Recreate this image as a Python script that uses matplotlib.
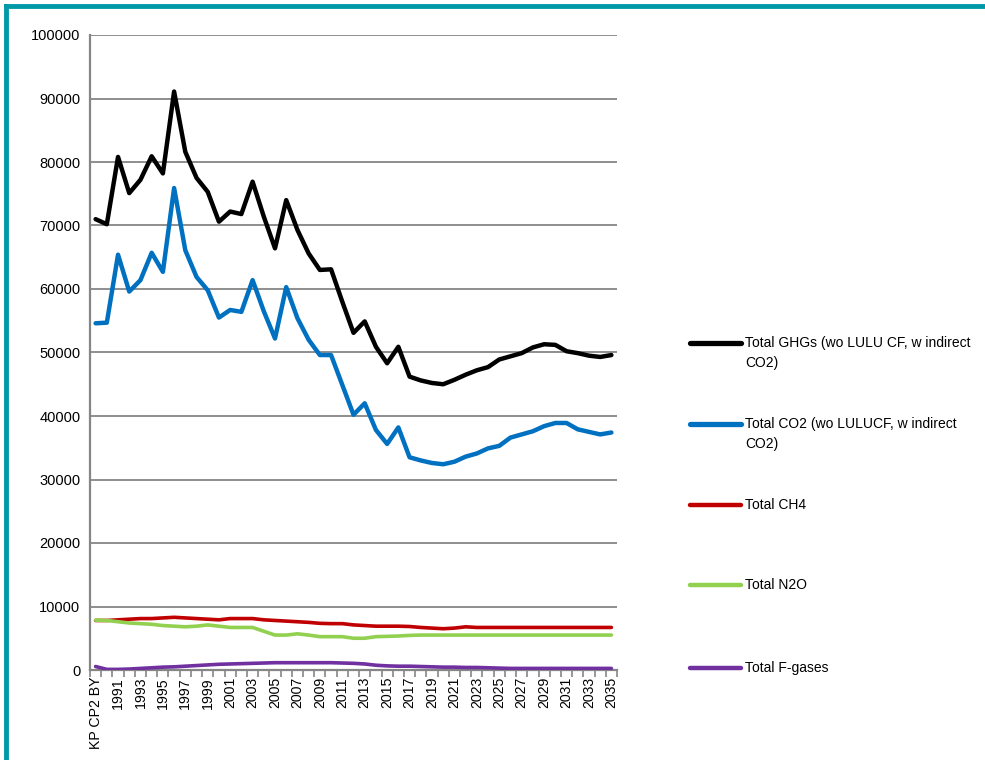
import matplotlib
matplotlib.use("Agg")
import matplotlib.pyplot as plt
from matplotlib.lines import Line2D

plt.rcParams['font.family'] = ['Liberation Sans', 'DejaVu Sans']

# categories: base year + 1990..2035
years = ["KP CP2 BY"] + [str(y) for y in range(1990, 2036)]

ghg_total = [71000, 70200, 80800, 75100, 77200, 80900, 78200, 91100, 81600, 77500,
             75300, 70600, 72200, 71800, 76900, 71400, 66400, 74000, 69300, 65600,
             63000, 63100, 58000, 53100, 54900, 50900, 48300, 50900, 46200, 45600,
             45200, 45000, 45700, 46500, 47200, 47700, 48900, 49400, 49900, 50800,
             51300, 51200, 50200, 49900, 49500, 49300, 49600]
co2_total = [54600, 54700, 65400, 59600, 61400, 65700, 62700, 75900, 66100, 61900,
             59800, 55500, 56700, 56400, 61400, 56500, 52200, 60300, 55400, 52000,
             49600, 49600, 44900, 40200, 42000, 37800, 35600, 38200, 33500, 33000,
             32600, 32400, 32800, 33600, 34100, 34900, 35300, 36600, 37100, 37600,
             38400, 38900, 38900, 37900, 37500, 37100, 37400]
ch4_total = [7800, 7800, 7900, 8000, 8100, 8100, 8200, 8300, 8200, 8100,
             8000, 7900, 8100, 8100, 8100, 7900, 7800, 7700, 7600, 7500,
             7350, 7300, 7300, 7100, 7000, 6900, 6900, 6900, 6850, 6700,
             6600, 6500, 6600, 6800, 6700, 6700, 6700, 6700, 6700, 6700,
             6700, 6700, 6700, 6700, 6700, 6700, 6700]
n2o_total = [7850, 7800, 7600, 7400, 7300, 7200, 7000, 6900, 6800, 6900,
             7100, 6900, 6700, 6700, 6700, 6100, 5500, 5500, 5700, 5500,
             5250, 5250, 5250, 5000, 5000, 5250, 5300, 5350, 5450, 5500,
             5500, 5500, 5500, 5500, 5500, 5500, 5500, 5500, 5500, 5500,
             5500, 5500, 5500, 5500, 5500, 5500, 5500]
fgas_total = [550, 100, 100, 150, 250, 350, 450, 500, 600, 700,
              800, 900, 950, 1000, 1050, 1100, 1150, 1150, 1150, 1150,
              1150, 1150, 1100, 1050, 950, 750, 650, 600, 600, 550,
              500, 450, 450, 400, 400, 350, 300, 250, 250, 250,
              250, 250, 250, 250, 250, 250, 250]

series = [
    (ghg_total, "#000000", 3.2, "Total GHGs (wo LULU CF, w indirect\nCO2)"),
    (co2_total, "#0070C0", 3.2, "Total CO2 (wo LULUCF, w indirect\nCO2)"),
    (ch4_total, "#C00000", 2.6, "Total CH4"),
    (n2o_total, "#92D050", 2.6, "Total N2O"),
    (fgas_total, "#7030A0", 2.6, "Total F-gases"),
]

fig = plt.figure(figsize=(9.85, 7.6), dpi=100)
ax = fig.add_axes([90 / 985, 90 / 760, 527 / 985, 635 / 760])

x = list(range(len(years)))
for vals, col, lw, lab in series:
    ax.plot(x, vals, color=col, lw=lw, solid_capstyle="round", solid_joinstyle="round", zorder=3)

ax.set_xlim(-0.5, len(years) - 0.5)
ax.set_ylim(0, 100000)
ax.set_yticks(range(0, 100001, 10000))
ax.tick_params(axis="y", length=0, labelsize=10.5, pad=7)
ax.grid(axis="y", color="#868686", lw=1.3)
ax.set_axisbelow(True)

ax.set_xticks(x[::2])
ax.set_xticklabels(years[::2], rotation=90, fontsize=10.2)
ax.set_xticks([i - 0.5 for i in range(len(years) + 1)], minor=True)
ax.tick_params(axis="x", which="major", length=0, pad=5)
ax.tick_params(axis="x", which="minor", length=5, color="#868686", width=1.2)

for s in ["top", "right"]:
    ax.spines[s].set_visible(False)
for s in ["left", "bottom"]:
    ax.spines[s].set_color("#868686")
    ax.spines[s].set_linewidth(1.6)

# legend drawn on the right
leg_y = [343, 424, 505, 585, 668]
for (vals, col, lw, lab), yp in zip(series, leg_y):
    yf = 1 - yp / 760
    fig.add_artist(Line2D([690 / 985, 741 / 985], [yf, yf], color=col, lw=lw + 0.6,
                          solid_capstyle="round", transform=fig.transFigure))
    fig.text(745 / 985, yf + 7 / 760, lab, fontsize=10, va="top", ha="left",
             linespacing=1.55, transform=fig.transFigure)

# teal frame on top and left
teal = "#0099A8"
fig.add_artist(Line2D([6 / 985, 1], [1 - 6 / 760, 1 - 6 / 760], color=teal, lw=3.5,
                      transform=fig.transFigure))
fig.add_artist(Line2D([6 / 985, 6 / 985], [0, 1 - 6 / 760], color=teal, lw=3.5,
                      transform=fig.transFigure))

fig.savefig("out.png", dpi=100)
